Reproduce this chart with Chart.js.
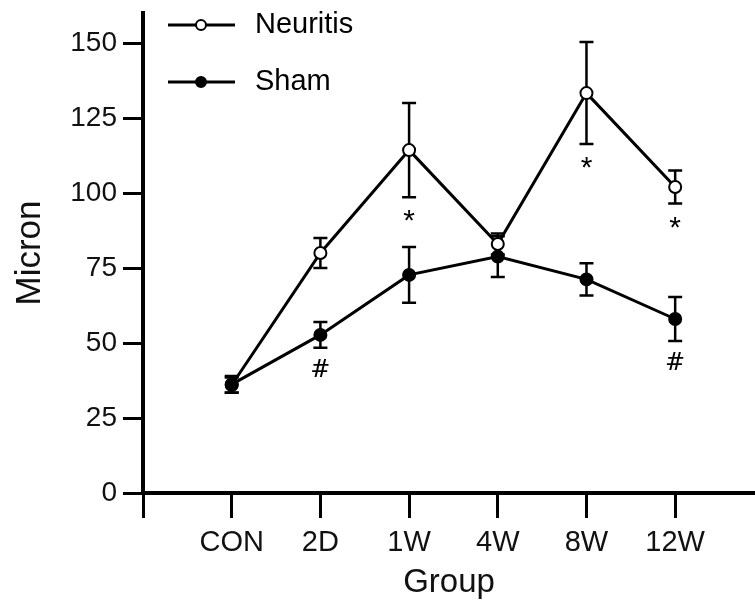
<!DOCTYPE html>
<html>
<head>
<meta charset="utf-8">
<script src="https://cdn.jsdelivr.net/npm/chart.js@4/dist/chart.umd.min.js"></script>
<style>
  html, body { margin: 0; padding: 0; background: #fff; }
  #wrap { width: 755px; height: 608px; }
</style>
</head>
<body>
<div id="wrap"><canvas id="chart" width="755" height="608"></canvas></div>
<script>
const groups = ['CON', '2D', '1W', '4W', '8W', '12W'];
const yTicks = [0, 25, 50, 75, 100, 125, 150];

const neuritisMean = [36, 80, 114.3, 83, 133.3, 102];
const neuritisErr  = [2.5, 5, 15.7, 3.5, 17, 5.5];
const neuritisSig  = ['', '', '*', '', '*', '*'];

const shamMean = [36.2, 52.7, 72.7, 78.8, 71.2, 58];
const shamErr  = [2.8, 4.3, 9.3, 6.8, 5.4, 7.3];
const shamSig  = ['', '#', '', '', '', '#'];

const FONT = '"Liberation Sans", Arial, Helvetica, sans-serif';

function pts(arr){ return arr.map((v, i) => ({x: i, y: v})); }

const datasets = [
  {
    label: 'Neuritis', data: pts(neuritisMean), err: neuritisErr, sig: neuritisSig,
    borderColor: '#000', borderWidth: 3, pointRadius: 6, pointBorderWidth: 2,
    pointBackgroundColor: '#fff', pointBorderColor: '#000', tension: 0, order: 2
  },
  {
    label: 'Sham', data: pts(shamMean), err: shamErr, sig: shamSig,
    borderColor: '#000', borderWidth: 3, pointRadius: 6, pointBorderWidth: 2,
    pointBackgroundColor: '#000', pointBorderColor: '#000', tension: 0, order: 1
  }
];

// error bars under the points, significance marks below them
const errorBars = {
  id: 'errorBars',
  beforeDatasetsDraw(chart){
    const {ctx, scales: {x, y}} = chart;
    ctx.save();
    ctx.strokeStyle = '#000';
    ctx.lineWidth = 2.5;
    chart.data.datasets.forEach(ds => {
      ds.data.forEach((p, i) => {
        const e = ds.err[i];
        const px = x.getPixelForValue(p.x);
        const top = y.getPixelForValue(p.y + e);
        const bot = y.getPixelForValue(p.y - e);
        ctx.beginPath();
        ctx.moveTo(px, top); ctx.lineTo(px, bot);
        ctx.moveTo(px - 7, top); ctx.lineTo(px + 7, top);
        ctx.moveTo(px - 7, bot); ctx.lineTo(px + 7, bot);
        ctx.stroke();
      });
    });
    ctx.restore();
  },
  afterDatasetsDraw(chart){
    const {ctx, scales: {x, y}} = chart;
    ctx.save();
    ctx.fillStyle = '#000';
    ctx.textAlign = 'center';
    ctx.textBaseline = 'middle';
    chart.data.datasets.forEach(ds => {
      ds.data.forEach((p, i) => {
        const s = ds.sig[i];
        if (!s) return;
        const px = x.getPixelForValue(p.x);
        const bot = y.getPixelForValue(p.y - ds.err[i]);
        if (s === '*') {
          ctx.font = '30px ' + FONT;
          ctx.fillText(s, px, bot + 25);
        } else {
          ctx.font = '24px "DejaVu Serif", "Liberation Serif", serif';
          ctx.fillText(s, px, bot + 23);
        }
      });
    });
    ctx.restore();
  }
};

// legend in the top left of the plot
const legendBox = {
  id: 'legendBox',
  afterDraw(chart){
    const {ctx} = chart;
    ctx.save();
    chart.data.datasets.forEach((ds, i) => {
      const yy = 25 + i * 57;
      ctx.strokeStyle = '#000';
      ctx.lineWidth = 3;
      ctx.beginPath();
      ctx.moveTo(168, yy); ctx.lineTo(235, yy);
      ctx.stroke();
      ctx.beginPath();
      ctx.arc(201, yy, 5, 0, Math.PI * 2);
      ctx.fillStyle = ds.pointBackgroundColor;
      ctx.fill();
      ctx.lineWidth = 2;
      ctx.stroke();
      ctx.fillStyle = '#000';
      ctx.font = '29px ' + FONT;
      ctx.textAlign = 'left';
      ctx.textBaseline = 'middle';
      ctx.fillText(ds.label, 255, yy);
    });
    ctx.restore();
  }
};

new Chart(document.getElementById('chart'), {
  type: 'line',
  data: { datasets },
  options: {
    responsive: false,
    animation: false,
    layout: { autoPadding: false, padding: { top: 13, right: 0, left: 0, bottom: 0 } },
    plugins: { legend: { display: false }, tooltip: { enabled: false } },
    scales: {
      x: {
        type: 'linear', min: -1, max: 5.9,
        afterBuildTicks: s => { s.ticks = [-1, 0, 1, 2, 3, 4, 5].map(v => ({value: v})); },
        afterFit: s => { s.height = 115; s.paddingLeft = 0; s.paddingRight = 0; },
        border: { display: true, color: '#000', width: 4 },
        grid: { drawOnChartArea: false, drawTicks: true, tickLength: 25, tickWidth: 3, tickColor: '#000' },
        ticks: {
          autoSkip: false, maxRotation: 0, padding: 8, color: '#111',
          font: { family: FONT, size: 29 },
          callback: v => groups[v] || ''
        },
        title: { display: true, text: 'Group', color: '#111', font: { family: FONT, size: 33 }, padding: { top: 0, bottom: 5 } }
      },
      y: {
        min: 0, max: 160,
        afterBuildTicks: s => { s.ticks = yTicks.map(v => ({value: v})); },
        afterFit: s => { s.width = 143; s.paddingTop = 0; s.paddingBottom = 0; },
        border: { display: true, color: '#000', width: 4 },
        grid: { drawOnChartArea: false, drawTicks: true, tickLength: 20, tickWidth: 3, tickColor: '#000' },
        ticks: { padding: 6, color: '#111', font: { family: FONT, size: 28 } },
        title: { display: true, text: 'Micron', color: '#111', font: { family: FONT, size: 35 }, padding: { top: 9, bottom: 0 } }
      }
    }
  },
  plugins: [errorBars, legendBox]
});
</script>
</body>
</html>
